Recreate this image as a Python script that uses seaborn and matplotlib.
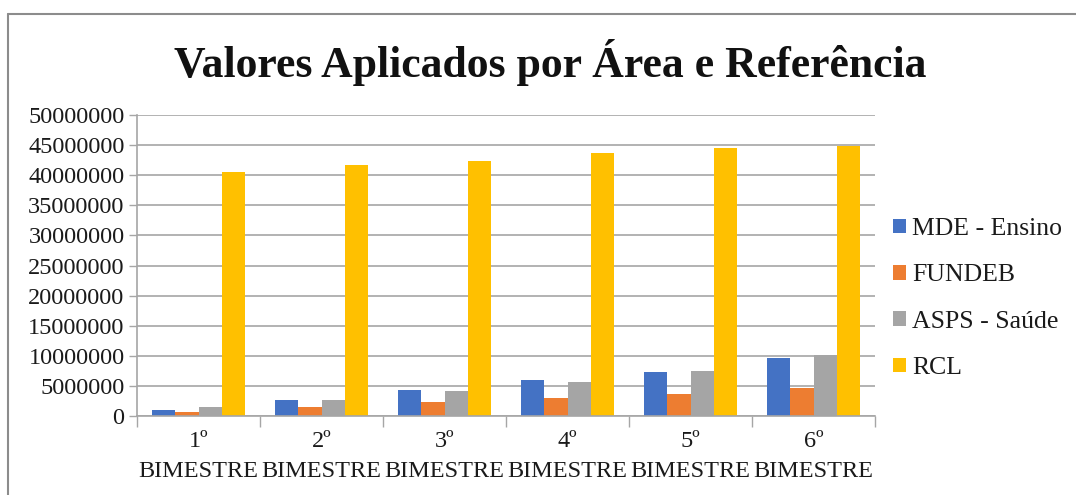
import matplotlib
matplotlib.use("Agg")
import matplotlib.pyplot as plt
import seaborn as sns
import pandas as pd
from matplotlib.lines import Line2D
from matplotlib.ticker import FixedLocator

categories = ["1º\nBIMESTRE", "2º\nBIMESTRE", "3º\nBIMESTRE", "4º\nBIMESTRE", "5º\nBIMESTRE", "6º\nBIMESTRE"]
series_names = ["MDE - Ensino", "FUNDEB", "ASPS - Saúde", "RCL"]
mde = [1000000, 2600000, 4250000, 5900000, 7250000, 9700000]
fundeb = [600000, 1450000, 2250000, 3050000, 3650000, 4650000]
asps = [1450000, 2600000, 4200000, 5650000, 7450000, 10050000]
rcl = [40500000, 41700000, 42300000, 43700000, 44500000, 44800000]
colors = ["#4472C4", "#ED7D31", "#A5A5A5", "#FFC000"]

rows = []
for name, vals in zip(series_names, [mde, fundeb, asps, rcl]):
    for c, v in zip(categories, vals):
        rows.append({"cat": c, "serie": name, "valor": v})
df = pd.DataFrame(rows)

sns.set_theme(style="white")
plt.rcParams["font.family"] = ["Liberation Serif", "DejaVu Serif"]

fig = plt.figure(figsize=(10.76, 4.95), dpi=100)
ax = fig.add_axes([137/1076, 79/495, (875-137)/1076, (416-115)/495])

sns.barplot(data=df, x="cat", y="valor", hue="serie", order=categories,
            hue_order=series_names, palette=colors, width=0.75, gap=0,
            saturation=1, ax=ax, edgecolor="none", linewidth=0)

ax.set_xlim(-0.5, 5.5)
ax.set_ylim(0, 50000000)
ax.set_yticks(range(0, 50000001, 5000000))
ax.set_yticklabels([str(v) for v in range(0, 50000001, 5000000)], fontsize=17.5, color="#1a1a1a")
ax.yaxis.grid(True, color="#a6a6a6", linewidth=1.2)
ax.set_axisbelow(True)
ax.tick_params(axis="y", which="major", length=6, color="#a6a6a6", width=1, left=True, pad=3)
ax.tick_params(axis="x", which="major", length=0, labelsize=17.5, pad=11, labelcolor="#1a1a1a")
ax.xaxis.set_minor_locator(FixedLocator([i - 0.5 for i in range(7)]))
ax.tick_params(axis="x", which="minor", length=8, color="#a6a6a6", width=1, bottom=True)
for lbl in ax.get_xticklabels():
    lbl.set_linespacing(1.55)
for s in ["top", "right"]:
    ax.spines[s].set_visible(False)
for s in ["left", "bottom"]:
    ax.spines[s].set_color("#a6a6a6")
    ax.spines[s].set_linewidth(1.2)
ax.set_xlabel("")
ax.set_ylabel("")

leg = ax.legend(loc="center left", bbox_to_anchor=(1.0, 0.39), frameon=False,
                fontsize=18.5, handlelength=0.5, handleheight=0.5, handletextpad=0.25,
                labelspacing=0.95, borderaxespad=0.3)
for t in leg.get_texts():
    t.set_color("#1a1a1a")

fig.text(550/1076, 1 - 63/495, "Valores Aplicados por Área e Referência",
         ha="center", va="center", fontsize=31.5, fontweight="bold", color="#111111")

fig.add_artist(Line2D([8/1076, 1.0], [1 - 14/495, 1 - 14/495], transform=fig.transFigure,
                      color="#8c8c8c", linewidth=1.5))
fig.add_artist(Line2D([8/1076, 8/1076], [1 - 14/495, 0.0], transform=fig.transFigure,
                      color="#8c8c8c", linewidth=1.5))

fig.savefig("out.png", dpi=100)
